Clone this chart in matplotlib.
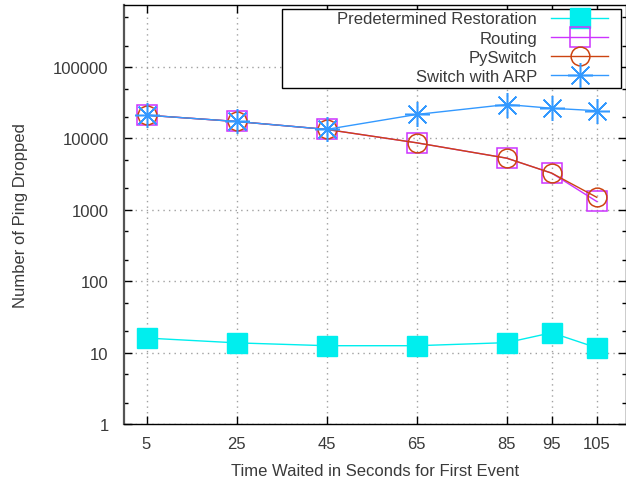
import matplotlib
matplotlib.use("Agg")
import matplotlib.pyplot as plt
from matplotlib.patches import Rectangle
from matplotlib.ticker import FixedLocator, NullFormatter

plt.rcParams['font.family'] = ['Liberation Sans', 'DejaVu Sans']

wait_time = [5, 25, 45, 65, 85, 95, 105]
predetermined = [16, 13.7, 12.5, 12.5, 13.8, 19, 11.7]
routing = [21200, 17300, 13400, 8700, 5300, 3270, 1310]
pyswitch = [21200, 17300, 13400, 8700, 5300, 3270, 1500]
switch_arp = [21200, 17300, 13400, 21700, 29900, 26500, 24500]

txt = '#3a3a3a'

fig = plt.figure(figsize=(6.26, 4.85), dpi=100)
ax = fig.add_axes([124/626, 60/485, 502/626, 419/485])

ax.plot(wait_time, predetermined, color='#00eeee', lw=1.0, marker='s', ms=14,
        mfc='#00eeee', mec='#00eeee', label='Predetermined Restoration')
ax.plot(wait_time, routing, color='#cc33ff', lw=1.0, marker='s', ms=14,
        mfc='none', mec='#cc33ff', mew=1.1, label='Routing')
ax.plot(wait_time, pyswitch, color='#cc4411', lw=1.0, marker='o', ms=13.5,
        mfc='none', mec='#cc4411', mew=1.1, label='PySwitch')
ax.plot(wait_time, switch_arp, color='#3399ff', lw=1.0, marker=(8, 2, 0), ms=18,
        mec='#3399ff', mew=1.1, label='Switch with ARP')

ax.set_yscale('log')
ax.set_xlim(0, 111.5)
ax.set_ylim(1, 10**5.87)

ax.set_xticks(wait_time)
ax.set_xticklabels([str(v) for v in wait_time])
majors = [1, 10, 100, 1000, 10000, 100000]
ax.yaxis.set_major_locator(FixedLocator(majors))
ax.set_yticklabels([str(v) for v in majors])
minors = [m * d for d in majors for m in (2, 5)]
ax.yaxis.set_minor_locator(FixedLocator(minors))
ax.yaxis.set_minor_formatter(NullFormatter())

ax.tick_params(axis='both', which='major', direction='in', length=6, width=1,
               labelsize=12, labelcolor=txt, top=True, right=True, pad=9)
ax.tick_params(axis='y', which='major', pad=11)
ax.tick_params(axis='y', which='minor', direction='in', length=3, width=1, right=True)

ax.grid(True, which='major', color='#a0a0a0', lw=1, linestyle=(0, (1, 3)))

ax.spines['left'].set_color('#555555')
ax.spines['left'].set_linewidth(1.6)
for s in ['bottom', 'top', 'right']:
    ax.spines[s].set_color('black')
    ax.spines[s].set_linewidth(1)

ax.set_xlabel('Time Waited in Seconds for First Event', fontsize=12, color=txt, labelpad=8)
ax.set_ylabel('Number of Ping Dropped', fontsize=12, color=txt, labelpad=18)

# legend box like gnuplot: wide frame, right-aligned text
box = Rectangle((282/626, 1 - 89/485), 339/626, 79/485, transform=fig.transFigure,
                facecolor='white', edgecolor='black', lw=1, zorder=4.5, clip_on=False)
ax.add_patch(box)
leg = ax.legend(loc='upper right', bbox_to_anchor=(608/626, 1 - 12.5/485),
                bbox_transform=fig.transFigure, markerfirst=False, numpoints=1,
                fontsize=12, handlelength=3.4, handletextpad=0.85, labelspacing=0.25,
                borderpad=0, borderaxespad=0, frameon=False)
leg.set_zorder(6)
for t in leg.get_texts():
    t.set_color(txt)

fig.savefig('out.png', dpi=100)
